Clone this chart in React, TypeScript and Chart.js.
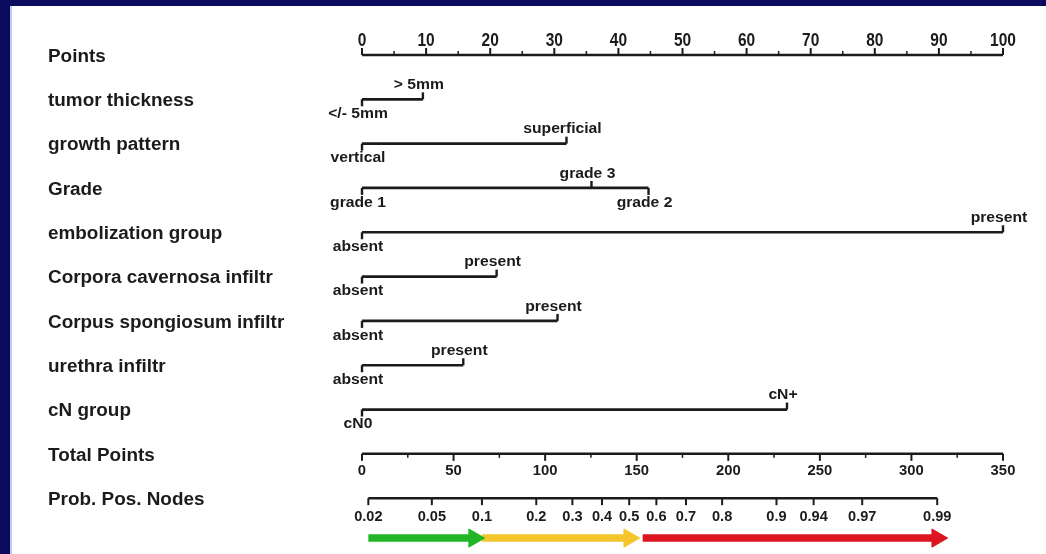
import React, { useEffect, useRef } from "react";
import { Chart, registerables } from "chart.js";

Chart.register(...registerables);

// ---------------- DATA ----------------
const rowLabels = [
  "Points",
  "tumor thickness",
  "growth pattern",
  "Grade",
  "embolization group",
  "Corpora cavernosa infiltr",
  "Corpus spongiosum infiltr",
  "urethra infiltr",
  "cN group",
  "Total Points",
  "Prob. Pos. Nodes",
];

const pointsTicks = [0, 10, 20, 30, 40, 50, 60, 70, 80, 90, 100];
const pointsMinorTicks = [5, 15, 25, 35, 45, 55, 65, 75, 85, 95];
const totalTicks = [0, 50, 100, 150, 200, 250, 300, 350];
const totalMinorTicks = [25, 75, 125, 175, 225, 275, 325];
const probTicks = [0.02, 0.05, 0.1, 0.2, 0.3, 0.4, 0.5, 0.6, 0.7, 0.8, 0.9, 0.94, 0.97, 0.99];
const probTickLabels = ["0.02", "0.05", "0.1", "0.2", "0.3", "0.4", "0.5", "0.6", "0.7", "0.8", "0.9", "0.94", "0.97", "0.99"];
// logistic model: logit(p) = (totalPoints - probCenterTotal) / probSpreadTotal
const probCenterTotal = 145.9;
const probSpreadTotal = 36.6;

const tumorLevels = ["</- 5mm", "> 5mm"];
const tumorPoints = [0, 9.5];
const growthLevels = ["vertical", "superficial"];
const growthPoints = [0, 31.9];
const gradeLevels = ["grade 1", "grade 3", "grade 2"];
const gradePoints = [0, 35.8, 44.7];
const embolLevels = ["absent", "present"];
const embolPoints = [0, 100];
const cavernosaLevels = ["absent", "present"];
const cavernosaPoints = [0, 21.0];
const spongiosumLevels = ["absent", "present"];
const spongiosumPoints = [0, 30.5];
const urethraLevels = ["absent", "present"];
const urethraPoints = [0, 15.8];
const cnLevels = ["cN0", "cN+"];
const cnPoints = [0, 66.3];

// risk arrows (probability ranges)
const arrowFrom = [0.02, 0.1, 0.55];
const arrowTo = [0.09, 0.5, 0.99];

// ---------------- LAYOUT / STYLE ----------------
const W = 1046;
const H = 554;
const ROW_PX = 44.6;
const INK = "#1b1b1b";
const FONT = '"Liberation Sans", Arial, Helvetica, sans-serif';
const arrowColors = ["#22b626", "#f4c62c", "#dc1520"];

const variables = [
  { row: 1, levels: tumorLevels, points: tumorPoints, above: [false, true] },
  { row: 2, levels: growthLevels, points: growthPoints, above: [false, true] },
  { row: 3, levels: gradeLevels, points: gradePoints, above: [false, true, false] },
  { row: 4, levels: embolLevels, points: embolPoints, above: [false, true] },
  { row: 5, levels: cavernosaLevels, points: cavernosaPoints, above: [false, true] },
  { row: 6, levels: spongiosumLevels, points: spongiosumPoints, above: [false, true] },
  { row: 7, levels: urethraLevels, points: urethraPoints, above: [false, true] },
  { row: 8, levels: cnLevels, points: cnPoints, above: [false, true] },
];

const logit = (p: number) => Math.log(p / (1 - p));
const probToAxis = (p: number) => logit(p);

function lineDs(axis: string, pts: { x: number; y: number }[], color: string, width: number): any {
  return {
    type: "line",
    xAxisID: axis,
    yAxisID: "y",
    data: pts,
    borderColor: color,
    borderWidth: width,
    borderCapStyle: "butt",
    pointRadius: 0,
    tension: 0,
    clip: false,
  };
}

function tickDs(axis: string, xs: number[], row: number, lenPx: number, up: boolean, width = 2): any {
  const off = (lenPx / 2) / ROW_PX;
  return {
    type: "line",
    xAxisID: axis,
    yAxisID: "y",
    showLine: false,
    data: xs.map((x) => ({ x, y: up ? row - off : row + off })),
    pointStyle: "line",
    rotation: 90,
    pointRadius: lenPx / 2,
    pointBorderWidth: width,
    pointBorderColor: INK,
    pointBackgroundColor: INK,
    clip: false,
  };
}

function drawText(
  ctx: CanvasRenderingContext2D,
  text: string,
  x: number,
  y: number,
  font: string,
  align: CanvasTextAlign,
  sx = 1,
  sy = 1
) {
  ctx.save();
  ctx.translate(x, y);
  ctx.scale(sx, sy);
  ctx.font = font;
  ctx.textAlign = align;
  ctx.textBaseline = "middle";
  ctx.fillStyle = INK;
  ctx.fillText(text, 0, 0);
  ctx.restore();
}

export default function App() {
  const ref = useRef<HTMLCanvasElement | null>(null);

  useEffect(() => {
    const canvas = ref.current;
    if (!canvas) return;

    const datasets: any[] = [];

    // Points axis
    datasets.push(lineDs("xp", [{ x: 0, y: 0 }, { x: 100, y: 0 }], INK, 2.5));
    datasets.push(tickDs("xp", pointsTicks, 0, 7, true));
    datasets.push(tickDs("xp", pointsMinorTicks, 0, 4, true, 1.5));

    // variable rows
    for (const v of variables) {
      const maxP = Math.max(...v.points);
      datasets.push(lineDs("xp", [{ x: 0, y: v.row }, { x: maxP, y: v.row }], INK, 2.7));
      v.points.forEach((p, i) => {
        datasets.push(tickDs("xp", [p], v.row, 7, v.above[i], 2.4));
      });
    }

    // Total points axis
    datasets.push(lineDs("xt", [{ x: 0, y: 9 }, { x: 350, y: 9 }], INK, 2.5));
    datasets.push(tickDs("xt", totalTicks, 9, 7, false));
    datasets.push(tickDs("xt", totalMinorTicks, 9, 4, false, 1.5));

    // Probability axis
    datasets.push(
      lineDs(
        "xl",
        [
          { x: probToAxis(probTicks[0]), y: 10 },
          { x: probToAxis(probTicks[probTicks.length - 1]), y: 10 },
        ],
        INK,
        2.5
      )
    );
    datasets.push(tickDs("xl", probTicks.map(probToAxis), 10, 7, false));

    // arrows
    arrowFrom.forEach((f, i) => {
      datasets.push({
        type: "line",
        xAxisID: "xl",
        yAxisID: "y",
        data: [
          { x: probToAxis(f), y: 10.9 },
          { x: probToAxis(arrowTo[i]), y: 10.9 },
        ],
        borderColor: arrowColors[i],
        borderWidth: 7.5,
        borderCapStyle: "butt",
        pointRadius: [0, 10.5],
        pointStyle: "triangle",
        rotation: 90,
        pointBackgroundColor: arrowColors[i],
        pointBorderColor: arrowColors[i],
        pointBorderWidth: 1,
        clip: false,
      });
    });

    const textPlugin = {
      id: "nomoText",
      beforeDraw(chart: any) {
        const ctx = chart.ctx as CanvasRenderingContext2D;
        ctx.save();
        ctx.fillStyle = "#ffffff";
        ctx.fillRect(0, 0, W, H);
        ctx.fillStyle = "#0b0b5e";
        ctx.fillRect(0, 0, W, 6);
        ctx.fillRect(0, 0, 10, H);
        ctx.fillStyle = "#c9c9ee";
        ctx.fillRect(10, 6, 2, H - 6);
        ctx.restore();
      },
      afterDatasetsDraw(chart: any) {
        const ctx = chart.ctx as CanvasRenderingContext2D;
        const sy = chart.scales.y;
        const xp = chart.scales.xp;
        const xt = chart.scales.xt;
        const xl = chart.scales.xl;
        const rowY = (r: number) => sy.getPixelForValue(r);

        // row labels
        rowLabels.forEach((lab, i) => {
          drawText(ctx, lab, 48, rowY(i) + 2, `bold 17.5px ${FONT}`, "left", 1.08, 1);
        });

        // points axis numbers
        pointsTicks.forEach((t) => {
          drawText(ctx, String(t), xp.getPixelForValue(t), rowY(0) - 14, `bold 15.5px ${FONT}`, "center", 1.0, 1.22);
        });

        // total points numbers
        totalTicks.forEach((t) => {
          drawText(ctx, String(t), xt.getPixelForValue(t), rowY(9) + 17, `bold 13.5px ${FONT}`, "center", 1.1, 1.05);
        });

        // probability numbers
        probTicks.forEach((p, i) => {
          drawText(ctx, probTickLabels[i], xl.getPixelForValue(probToAxis(p)), rowY(10) + 19, `bold 13.5px ${FONT}`, "center", 1.08, 1.05);
        });

        // level labels
        for (const v of variables) {
          v.levels.forEach((lab, i) => {
            const x = xp.getPixelForValue(v.points[i]) - 4;
            const y = rowY(v.row) + (v.above[i] ? -14 : 15);
            drawText(ctx, lab, x, y, `bold 14px ${FONT}`, "center", 1.12, 1);
          });
        }
      },
    };

    const chart = new Chart(canvas, {
      type: "line",
      data: { datasets },
      options: {
        animation: false,
        responsive: false,
        maintainAspectRatio: false,
        devicePixelRatio: 1,
        events: [],
        layout: { padding: { left: 362, right: W - 1003, top: 55, bottom: H - 55 - ROW_PX * 11 } },
        plugins: { legend: { display: false }, tooltip: { enabled: false } },
        scales: {
          xp: { type: "linear", min: 0, max: 100, display: false },
          xt: { type: "linear", min: 0, max: 350, display: false },
          xl: {
            type: "linear",
            min: (0 - probCenterTotal) / probSpreadTotal,
            max: (350 - probCenterTotal) / probSpreadTotal,
            display: false,
          },
          y: { type: "linear", min: 0, max: 11, reverse: true, display: false },
        },
      },
      plugins: [textPlugin],
    } as any);

    return () => chart.destroy();
  }, []);

  return (
    <div style={{ position: "absolute", left: 0, top: 0, width: W, height: H, background: "#fff" }}>
      <canvas ref={ref} width={W} height={H} style={{ display: "block", width: W, height: H }} />
    </div>
  );
}
